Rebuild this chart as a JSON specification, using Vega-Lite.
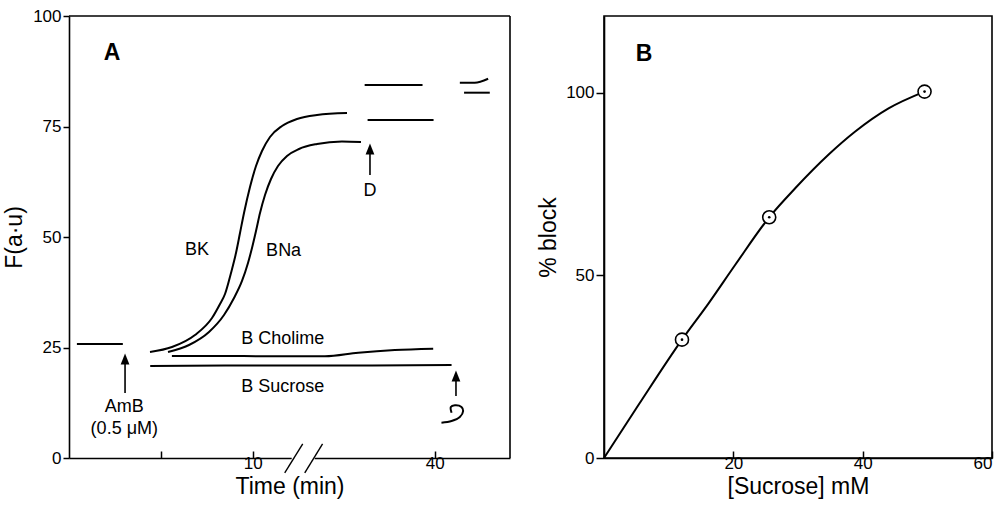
{
  "$schema": "https://vega.github.io/schema/vega-lite/v6.json",
  "background": "white",
  "padding": {"left": 3, "top": 7, "right": 0, "bottom": 0},
  "bounds": "flush",
  "spacing": 94,
  "config": {
    "font": "Liberation Sans",
    "axis": {"grid": false, "domainColor": "black", "domainWidth": 1.6, "tickColor": "black", "tickWidth": 1.5, "labelColor": "black", "titleColor": "black", "labelFont": "Liberation Sans", "titleFont": "Liberation Sans", "labelFontSize": 17, "titleFontSize": 23, "titleFontWeight": "normal"},
    "text": {"font": "Liberation Sans", "fontSize": 18, "color": "black"}
  },
  "datasets": {
    "a_curves": [
      {"s": "base", "i": 0, "t": 0.43, "f": 25.8}, {"s": "base", "i": 1, "t": 2.93, "f": 25.8},
      {"s": "BK", "i": 0, "t": 4.408, "f": 23.98}, {"s": "BK", "i": 1, "t": 5.605, "f": 25.11}, {"s": "BK", "i": 2, "t": 6.857, "f": 27.83}, {"s": "BK", "i": 3, "t": 7.782, "f": 31.67}, {"s": "BK", "i": 4, "t": 8.218, "f": 34.84}, {"s": "BK", "i": 5, "t": 8.49, "f": 37.1}, {"s": "BK", "i": 6, "t": 8.816, "f": 41.86}, {"s": "BK", "i": 7, "t": 9.088, "f": 46.38}, {"s": "BK", "i": 8, "t": 9.306, "f": 50.9}, {"s": "BK", "i": 9, "t": 9.524, "f": 55.43}, {"s": "BK", "i": 10, "t": 9.85, "f": 61.31}, {"s": "BK", "i": 11, "t": 10.177, "f": 66.06}, {"s": "BK", "i": 12, "t": 10.503, "f": 69.46}, {"s": "BK", "i": 13, "t": 10.939, "f": 72.62}, {"s": "BK", "i": 14, "t": 11.592, "f": 75.11}, {"s": "BK", "i": 15, "t": 12.408, "f": 76.7}, {"s": "BK", "i": 16, "t": 13.497, "f": 77.6}, {"s": "BK", "i": 17, "t": 15.129, "f": 78.05},
      {"s": "BNa", "i": 0, "t": 5.388, "f": 23.98}, {"s": "BNa", "i": 1, "t": 6.531, "f": 25.57}, {"s": "BNa", "i": 2, "t": 7.619, "f": 28.51}, {"s": "BNa", "i": 3, "t": 8.435, "f": 32.35}, {"s": "BNa", "i": 4, "t": 8.98, "f": 36.2}, {"s": "BNa", "i": 5, "t": 9.415, "f": 40.05}, {"s": "BNa", "i": 6, "t": 9.741, "f": 44.12}, {"s": "BNa", "i": 7, "t": 9.959, "f": 47.51}, {"s": "BNa", "i": 8, "t": 10.177, "f": 51.36}, {"s": "BNa", "i": 9, "t": 10.395, "f": 55.43}, {"s": "BNa", "i": 10, "t": 10.667, "f": 59.5}, {"s": "BNa", "i": 11, "t": 10.993, "f": 63.12}, {"s": "BNa", "i": 12, "t": 11.374, "f": 66.06}, {"s": "BNa", "i": 13, "t": 11.864, "f": 68.33}, {"s": "BNa", "i": 14, "t": 12.517, "f": 69.91}, {"s": "BNa", "i": 15, "t": 13.497, "f": 71.04}, {"s": "BNa", "i": 16, "t": 14.857, "f": 71.61}, {"s": "BNa", "i": 17, "t": 15.891, "f": 71.49},
      {"s": "chol", "i": 0, "t": 5.6, "f": 23.08}, {"s": "chol", "i": 1, "t": 9.5, "f": 23.05}, {"s": "chol", "i": 2, "t": 13.93, "f": 23.01}, {"s": "chol", "i": 3, "t": 15.74, "f": 23.82}, {"s": "chol", "i": 4, "t": 17.73, "f": 24.43}, {"s": "chol", "i": 5, "t": 19.82, "f": 24.73},
      {"s": "sucr", "i": 0, "t": 4.42, "f": 20.81}, {"s": "sucr", "i": 1, "t": 8.5, "f": 20.95}, {"s": "sucr", "i": 2, "t": 12.66, "f": 20.9}, {"s": "sucr", "i": 3, "t": 16.5, "f": 20.95}, {"s": "sucr", "i": 4, "t": 20.82, "f": 21.04},
      {"s": "seg1", "i": 0, "t": 16.09, "f": 84.39}, {"s": "seg1", "i": 1, "t": 19.24, "f": 84.39},
      {"s": "seg2", "i": 0, "t": 16.25, "f": 76.47}, {"s": "seg2", "i": 1, "t": 19.84, "f": 76.47},
      {"s": "seg3", "i": 0, "t": 21.27, "f": 84.91}, {"s": "seg3", "i": 1, "t": 22.08, "f": 84.91}, {"s": "seg3", "i": 2, "t": 22.81, "f": 85.81},
      {"s": "seg4", "i": 0, "t": 21.5, "f": 82.65}, {"s": "seg4", "i": 1, "t": 22.9, "f": 82.65}
    ],
    "a_hook": [
      {"i": 0, "t": 20.27, "f": 7.99}, {"i": 1, "t": 20.82, "f": 8.37}, {"i": 2, "t": 21.27, "f": 9.28}, {"i": 3, "t": 21.45, "f": 10.63}, {"i": 4, "t": 21.36, "f": 11.54}, {"i": 5, "t": 21.0, "f": 11.92}, {"i": 6, "t": 20.78, "f": 11.54}, {"i": 7, "t": 20.82, "f": 10.25}
    ],
    "a_rules": [
      {"t": 0, "t2": 24, "f": 100, "f2": 100},
      {"t": 24, "t2": 24, "f": 0, "f2": 100},
      {"t": 3.05, "t2": 3.05, "f": 14.7, "f2": 22.4},
      {"t": 16.38, "t2": 16.38, "f": 64.0, "f2": 69.9},
      {"t": 21.06, "t2": 21.06, "f": 14.0, "f2": 18.55}
    ],
    "a_gap": [{"t": 12.12, "t2": 13.37, "f": 0, "f2": 0}],
    "a_breaks": [
      {"t": 11.74, "t2": 12.72, "f": -3.39, "f2": 3.17},
      {"t": 12.83, "t2": 13.8, "f": -3.39, "f2": 3.17}
    ],
    "a_heads": [
      {"t": 3.05, "f": 22.4},
      {"t": 16.38, "f": 69.9},
      {"t": 21.06, "f": 18.55}
    ],
    "a_text": [
      {"t": 6.96, "f": 47.1, "label": "BK"},
      {"t": 11.68, "f": 46.8, "label": "BNa"},
      {"t": 11.63, "f": 27.0, "label": "B Cholime"},
      {"t": 11.63, "f": 16.1, "label": "B Sucrose"},
      {"t": 3.01, "f": 11.6, "label": "AmB"},
      {"t": 3.01, "f": 6.5, "label": "(0.5 μM)"},
      {"t": 16.38, "f": 60.4, "label": "D"}
    ],
    "a_letter": [{"t": 2.34, "f": 91.6, "label": "A"}],
    "b_curve": [
      {"c": 0, "p": 0}, {"c": 5.4, "p": 14.7}, {"c": 12.06, "p": 32.4}, {"c": 16.2, "p": 42.4}, {"c": 20.3, "p": 52.9}, {"c": 25.55, "p": 65.9}, {"c": 29.6, "p": 73.9}, {"c": 34.7, "p": 83.0}, {"c": 38.8, "p": 89.3}, {"c": 44.0, "p": 95.7}, {"c": 49.57, "p": 100.3}
    ],
    "b_points": [
      {"c": 12.06, "p": 32.4}, {"c": 25.55, "p": 65.9}, {"c": 49.57, "p": 100.3}
    ],
    "b_letter": [{"c": 6.18, "p": 110.7, "label": "B"}]
  },
  "hconcat": [
    {
      "width": 441,
      "height": 442,
      "view": {"stroke": null},
      "layer": [
        {
          "data": {"name": "a_curves"},
          "mark": {"type": "line", "color": "black", "strokeWidth": 2, "interpolate": "monotone"},
          "encoding": {
            "x": {"field": "t", "type": "quantitative", "scale": {"domain": [0, 24], "nice": false, "zero": false},
                  "axis": {"title": "Time (min)", "values": [5, 10, 19.9], "labelExpr": "datum.value == 10 ? '10' : datum.value == 19.9 ? '40' : ''", "tickSize": -7, "labelPadding": 4, "titlePadding": 4}},
            "y": {"field": "f", "type": "quantitative", "scale": {"domain": [0, 100], "nice": false},
                  "axis": {"title": "F(a·u)", "values": [0, 25, 50, 75, 100], "tickSize": 6, "labelPadding": 2, "titlePadding": 6}},
            "detail": {"field": "s"},
            "order": {"field": "i", "type": "quantitative"}
          }
        },
        {
          "data": {"name": "a_hook"},
          "mark": {"type": "line", "color": "black", "strokeWidth": 2, "interpolate": "catmull-rom"},
          "encoding": {
            "x": {"field": "t", "type": "quantitative", "scale": {"domain": [0, 24], "nice": false, "zero": false}},
            "y": {"field": "f", "type": "quantitative", "scale": {"domain": [0, 100], "nice": false}},
            "order": {"field": "i", "type": "quantitative"}
          }
        },
        {
          "data": {"name": "a_rules"},
          "mark": {"type": "rule", "color": "black", "strokeWidth": 1.6},
          "encoding": {
            "x": {"field": "t", "type": "quantitative", "scale": {"domain": [0, 24], "nice": false, "zero": false}},
            "x2": {"field": "t2"},
            "y": {"field": "f", "type": "quantitative", "scale": {"domain": [0, 100], "nice": false}},
            "y2": {"field": "f2"}
          }
        },
        {
          "data": {"name": "a_gap"},
          "mark": {"type": "rule", "color": "white", "strokeWidth": 5},
          "encoding": {
            "x": {"field": "t", "type": "quantitative", "scale": {"domain": [0, 24], "nice": false, "zero": false}},
            "x2": {"field": "t2"},
            "y": {"field": "f", "type": "quantitative", "scale": {"domain": [0, 100], "nice": false}},
            "y2": {"field": "f2"}
          }
        },
        {
          "data": {"name": "a_breaks"},
          "mark": {"type": "rule", "color": "black", "strokeWidth": 1.4},
          "encoding": {
            "x": {"field": "t", "type": "quantitative", "scale": {"domain": [0, 24], "nice": false, "zero": false}},
            "x2": {"field": "t2"},
            "y": {"field": "f", "type": "quantitative", "scale": {"domain": [0, 100], "nice": false}},
            "y2": {"field": "f2"}
          }
        },
        {
          "data": {"name": "a_heads"},
          "mark": {"type": "point", "shape": "M0,-1L-0.8,1L0.8,1Z", "filled": true, "color": "black", "opacity": 1, "size": 120},
          "encoding": {
            "x": {"field": "t", "type": "quantitative", "scale": {"domain": [0, 24], "nice": false, "zero": false}},
            "y": {"field": "f", "type": "quantitative", "scale": {"domain": [0, 100], "nice": false}}
          }
        },
        {
          "data": {"name": "a_text"},
          "mark": {"type": "text", "fontSize": 18, "baseline": "middle", "align": "center"},
          "encoding": {
            "x": {"field": "t", "type": "quantitative", "scale": {"domain": [0, 24], "nice": false, "zero": false}},
            "y": {"field": "f", "type": "quantitative", "scale": {"domain": [0, 100], "nice": false}},
            "text": {"field": "label"}
          }
        },
        {
          "data": {"name": "a_letter"},
          "mark": {"type": "text", "fontSize": 23, "fontWeight": "bold", "baseline": "middle", "align": "center"},
          "encoding": {
            "x": {"field": "t", "type": "quantitative", "scale": {"domain": [0, 24], "nice": false, "zero": false}},
            "y": {"field": "f", "type": "quantitative", "scale": {"domain": [0, 100], "nice": false}},
            "text": {"field": "label"}
          }
        }
      ]
    },
    {
      "width": 388,
      "height": 442,
      "view": {"stroke": "black", "strokeWidth": 1.6},
      "layer": [
        {
          "data": {"name": "b_curve"},
          "mark": {"type": "line", "color": "black", "strokeWidth": 2, "interpolate": "monotone"},
          "encoding": {
            "x": {"field": "c", "type": "quantitative", "scale": {"domain": [0, 60], "nice": false},
                  "axis": {"title": "[Sucrose] mM", "values": [20, 40, 60], "tickSize": -7, "labelPadding": 4, "titlePadding": 4}},
            "y": {"field": "p", "type": "quantitative", "scale": {"domain": [0, 121], "nice": false},
                  "axis": {"title": "% block", "values": [0, 50, 100], "tickSize": 8, "labelPadding": 2, "titlePadding": 5}}
          }
        },
        {
          "data": {"name": "b_points"},
          "mark": {"type": "point", "shape": "circle", "filled": false, "fill": "white", "stroke": "black", "strokeWidth": 1.6, "opacity": 1, "size": 170},
          "encoding": {
            "x": {"field": "c", "type": "quantitative", "scale": {"domain": [0, 60], "nice": false}},
            "y": {"field": "p", "type": "quantitative", "scale": {"domain": [0, 121], "nice": false}}
          }
        },
        {
          "data": {"name": "b_points"},
          "mark": {"type": "point", "shape": "circle", "filled": true, "color": "black", "opacity": 1, "size": 7},
          "encoding": {
            "x": {"field": "c", "type": "quantitative", "scale": {"domain": [0, 60], "nice": false}},
            "y": {"field": "p", "type": "quantitative", "scale": {"domain": [0, 121], "nice": false}}
          }
        },
        {
          "data": {"name": "b_letter"},
          "mark": {"type": "text", "fontSize": 23, "fontWeight": "bold", "baseline": "middle", "align": "center"},
          "encoding": {
            "x": {"field": "c", "type": "quantitative", "scale": {"domain": [0, 60], "nice": false}},
            "y": {"field": "p", "type": "quantitative", "scale": {"domain": [0, 121], "nice": false}},
            "text": {"field": "label"}
          }
        }
      ]
    }
  ]
}
